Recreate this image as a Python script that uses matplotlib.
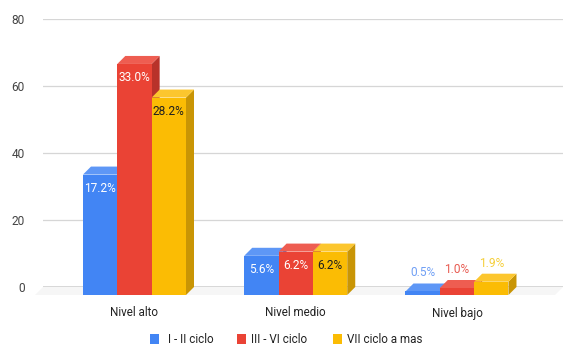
import matplotlib
matplotlib.use("Agg")
import matplotlib.pyplot as plt
from matplotlib.patches import Polygon, Rectangle
from matplotlib.transforms import blended_transform_factory

# ---- data ----------------------------------------------------------------
categories = ["Nivel alto", "Nivel medio", "Nivel bajo"]
series_names = ["I - II ciclo", "III - VI ciclo", "VII ciclo a mas"]
pct_i_ii = [17.2, 5.6, 0.5]
pct_iii_vi = [33.0, 6.2, 1.0]
pct_vii = [28.2, 6.2, 1.9]
total_students = 209
y_ticks = [0, 20, 40, 60, 80]

# ---- styling -------------------------------------------------------------
front_colors = ["#4285F4", "#EA4335", "#FBBC04"]
top_colors = ["#5e97f6", "#ee5d51", "#fcc62e"]
side_colors = ["#2f69cc", "#b8322a", "#c99505"]
inside_label_colors = ["#ffffff", "#ffffff", "#1f1f1f"]
outside_label_colors = ["#6f9ff5", "#e85a50", "#f5cf3a"]
FONT = ["Roboto", "DejaVu Sans"]
plt.rcParams["font.family"] = FONT

W, H, DPI = 566, 346, 100
fig = plt.figure(figsize=(W / DPI, H / DPI), dpi=DPI)
fig.patch.set_facecolor("white")

# plot area (back wall) in pixels
left_px, right_px, top_px, base_px = 43, 563, 19, 287
ax = fig.add_axes([left_px / W, (H - base_px) / H,
                   (right_px - left_px) / W, (base_px - top_px) / H])
xmin, xmax = -0.617, 2.608
ymin, ymax = 0, 80
ax.set_xlim(xmin, xmax)
ax.set_ylim(ymin, ymax)
for sp in ax.spines.values():
    sp.set_visible(False)
ax.set_facecolor("none")

# depth of the 3D extrusion, converted from pixels to data units
depth_px = 8
ddx = depth_px * (xmax - xmin) / (right_px - left_px)
ddy = depth_px * (ymax - ymin) / (base_px - top_px)
px_y = (ymax - ymin) / (base_px - top_px)

# gridlines and baseline on the back wall
for t in y_ticks[1:]:
    ax.axhline(t, color="#d6d6d6", lw=0.9, zorder=0)

# floor plane
floor = Polygon([(xmin, 0), (xmax, 0), (xmax - ddx, -ddy), (xmin - ddx, -ddy)],
                closed=True, facecolor="#f6f6f6", edgecolor="none",
                zorder=0.5, clip_on=False)
ax.add_patch(floor)
ax.axhline(0, color="#3c3c3c", lw=1.0, zorder=1)

ax.set_xticks([])
ax.set_yticks(y_ticks)
ax.set_yticklabels([str(t) for t in y_ticks])
ax.tick_params(axis="y", length=0, pad=13, labelsize=8.6, labelcolor="#444444")

# ---- 3D bars -------------------------------------------------------------
series = [pct_i_ii, pct_iii_vi, pct_vii]
bar_w = 0.213
z = 2
for s, pcts in enumerate(series):
    for c, pct in enumerate(pcts):
        v = pct / 100.0 * total_students
        x0 = c + (s - 1) * bar_w - bar_w / 2  # back-left corner
        fx = x0 - ddx                          # front-left corner
        side = Polygon([(fx + bar_w, -ddy), (x0 + bar_w, 0), (x0 + bar_w, v),
                        (fx + bar_w, v - ddy)], closed=True,
                       facecolor=side_colors[s], edgecolor="none",
                       zorder=z, clip_on=False)
        top = Polygon([(fx, v - ddy), (fx + bar_w, v - ddy), (x0 + bar_w, v),
                       (x0, v)], closed=True, facecolor=top_colors[s],
                      edgecolor="none", zorder=z, clip_on=False)
        front = Rectangle((fx, -ddy), bar_w, v, facecolor=front_colors[s],
                          edgecolor="none", zorder=z + 0.1, clip_on=False)
        ax.add_patch(side)
        ax.add_patch(top)
        ax.add_patch(front)

        label = f"{pct:.1f}%"
        cx = fx + bar_w / 2
        if v / px_y > 30:
            ax.text(cx, v - ddy - 14 * px_y, label, ha="center", va="center",
                    fontsize=8.6, color=inside_label_colors[s], zorder=z + 1)
        else:
            ax.text(cx, v + 10.5 * px_y, label, ha="center", va="center",
                    fontsize=8.6, color=outside_label_colors[s], zorder=z + 1)
        z += 1

# category labels under the front of each group
trans = blended_transform_factory(ax.transData, ax.transAxes)
for c, name in enumerate(categories):
    ax.text(c - ddx, -(313 - base_px) / (base_px - top_px), name,
            transform=trans, ha="center", va="center", fontsize=8.4,
            color="#222222")

# ---- legend --------------------------------------------------------------
legend_sq_x = [150, 237, 333]
legend_txt_x = [168, 251, 347]
sq = 9
for s, name in enumerate(series_names):
    fig.patches.append(Rectangle((legend_sq_x[s] / W, (H - 344) / H), sq / W, 10 / H,
                                 transform=fig.transFigure,
                                 facecolor=front_colors[s], edgecolor="none"))
    fig.text(legend_txt_x[s] / W, (H - 339.5) / H, name, ha="left", va="center",
             fontsize=8.4, color="#222222")

fig.savefig("out.png", dpi=DPI, facecolor="white")
